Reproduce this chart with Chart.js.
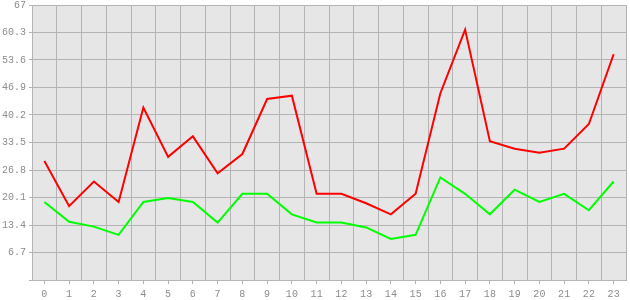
<!DOCTYPE html>
<html>
<head>
<meta charset="utf-8">
<script src="https://cdn.jsdelivr.net/npm/chart.js@4/dist/chart.umd.min.js"></script>
<style>
html,body{margin:0;padding:0;background:#fff;}
#c{display:block;}
</style>
</head>
<body>
<canvas id="c" width="630" height="300"></canvas>
<script>
const categories = ["0","1","2","3","4","5","6","7","8","9","10","11","12","13","14","15","16","17","18","19","20","21","22","23"];
const redSeries = [29, 18, 24, 19, 42, 30, 35, 26, 30.7, 44.1, 44.9, 21, 21, 18.7, 16, 21, 45.5, 61, 33.8, 32, 31, 32, 38, 55];
const greenSeries = [19, 14.2, 13, 11, 19, 20, 19, 14, 21, 21, 16, 14, 14, 12.8, 10, 11, 25, 21, 16, 22, 19, 21, 17, 24];
const yTickValues = [0, 6.7, 13.4, 20.1, 26.8, 33.5, 40.2, 46.9, 53.6, 60.3, 67];
const yTickLabels = ["", "6.7", "13.4", "20.1", "26.8", "33.5", "40.2", "46.9", "53.6", "60.3", "67"];

const gridColor = '#b4b4b4';
const labelColor = '#8c8c8c';
const fontSpec = {family: '"Liberation Mono", "DejaVu Sans Mono", monospace', size: 10};

const plotBg = {
  id: 'plotBg',
  beforeDraw(chart) {
    const {ctx, chartArea: a} = chart;
    ctx.save();
    ctx.fillStyle = '#e6e6e6';
    ctx.fillRect(a.left, a.top, a.right - a.left, a.bottom - a.top);
    ctx.restore();
  }
};

function noPad(s) { s.paddingTop = 0; s.paddingBottom = 0; s.paddingLeft = 0; s.paddingRight = 0; }

new Chart(document.getElementById('c'), {
  type: 'line',
  data: {
    labels: categories,
    datasets: [
      {data: redSeries, borderColor: '#ff0000', borderWidth: 2, pointRadius: 0, tension: 0, fill: false},
      {data: greenSeries, borderColor: '#00ff00', borderWidth: 2, pointRadius: 0, tension: 0, fill: false}
    ]
  },
  options: {
    responsive: false,
    animation: false,
    devicePixelRatio: 1,
    layout: {padding: {top: 5, right: 4, left: 0, bottom: 0}},
    plugins: {legend: {display: false}, tooltip: {enabled: false}},
    scales: {
      x: {
        offset: true,
        weight: 0,
        grid: {offset: true, color: gridColor, drawTicks: false},
        border: {color: gridColor},
        ticks: {color: labelColor, font: fontSpec, padding: 8, maxRotation: 0, autoSkip: false},
        afterFit(s) { s.height = 20; noPad(s); }
      },
      x2: {
        type: 'category',
        labels: categories,
        position: 'bottom',
        offset: true,
        weight: -1,
        grid: {offset: false, drawOnChartArea: false, color: gridColor, tickLength: 4},
        border: {display: false},
        ticks: {display: false, autoSkip: false},
        afterFit(s) { s.height = 0; noPad(s); }
      },
      y: {
        min: 0, max: 67,
        afterBuildTicks(s) { s.ticks = yTickValues.map(v => ({value: v})); },
        grid: {color: gridColor, tickLength: 3},
        border: {color: gridColor},
        ticks: {color: labelColor, font: fontSpec, padding: 3,
          callback: (v, i) => yTickLabels[i]},
        afterFit(s) { s.width = 32; noPad(s); }
      }
    }
  },
  plugins: [plotBg]
});
</script>
</body>
</html>
